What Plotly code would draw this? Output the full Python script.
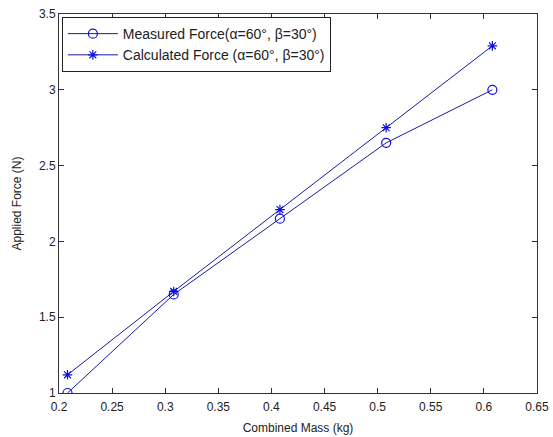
import plotly.graph_objects as go

# Combined mass (kg) and applied force (N)
mass = [0.208, 0.308, 0.408, 0.508, 0.608]
measured_force = [1.00, 1.65, 2.15, 2.65, 3.00]
calculated_force = [1.12, 1.67, 2.21, 2.75, 3.29]

x_ticks = [0.2, 0.25, 0.3, 0.35, 0.4, 0.45, 0.5, 0.55, 0.6, 0.65]
x_tick_text = ["0.2", "0.25", "0.3", "0.35", "0.4", "0.45", "0.5", "0.55", "0.6", "0.65"]
y_ticks = [1, 1.5, 2, 2.5, 3, 3.5]
y_tick_text = ["1", "1.5", "2", "2.5", "3", "3.5"]

line_color = "#1a1aa0"
marker_color = "#1010e0"
font_family = "Liberation Sans, Arial, sans-serif"

fig = go.Figure()
fig.add_trace(go.Scatter(
    x=mass, y=measured_force, mode="lines+markers",
    name="Measured Force(α=60°, β=30°)",
    line=dict(color=line_color, width=1),
    marker=dict(symbol="circle-open", size=9, color=marker_color, line=dict(width=1.2)),
))
fig.add_trace(go.Scatter(
    x=mass, y=calculated_force, mode="lines+markers",
    name="Calculated Force (α=60°, β=30°)",
    line=dict(color=line_color, width=1),
    marker=dict(symbol="asterisk-open", size=8, color=marker_color,
                line=dict(width=1.2, color=marker_color)),
))

axis_common = dict(
    showgrid=False, zeroline=False, showline=True, linecolor="#333333", linewidth=1,
    mirror="ticks", ticks="inside", ticklen=5, tickcolor="#333333", automargin=False,
    tickfont=dict(family=font_family, size=12, color="#222222"),
)

fig.update_xaxes(
    range=[0.2, 0.65], tickvals=x_ticks, ticktext=x_tick_text, ticklabelstandoff=3,
    title=dict(text="Combined Mass (kg)", standoff=10,
               font=dict(family=font_family, size=12, color="#222222")),
    **axis_common,
)
fig.update_yaxes(
    range=[1, 3.5], tickvals=y_ticks, ticktext=y_tick_text,
    title=dict(text="Applied Force (N)", standoff=14,
               font=dict(family=font_family, size=12, color="#222222")),
    **axis_common,
)

fig.update_layout(
    width=553, height=437,
    margin=dict(l=59, r=16, t=14, b=44),
    paper_bgcolor="white", plot_bgcolor="white",
    showlegend=True,
    legend=dict(
        x=0.006, y=0.992, xanchor="left", yanchor="top",
        bgcolor="white", bordercolor="#222222", borderwidth=1,
        font=dict(family=font_family, size=14, color="#222222"),
        tracegroupgap=0, itemwidth=50,
    ),
)

fig.write_html("out.html")
